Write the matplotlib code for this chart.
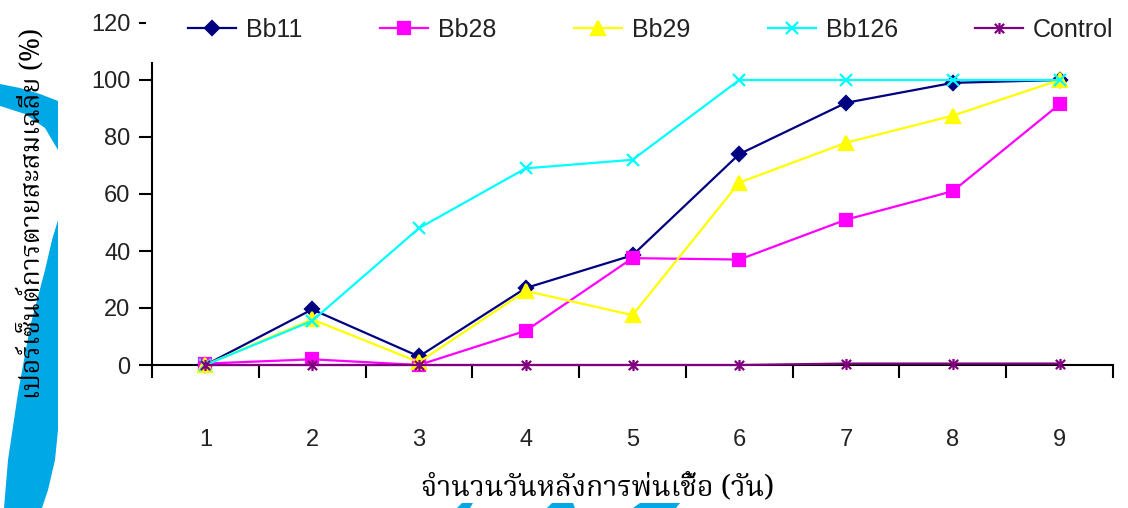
import matplotlib
matplotlib.use("Agg")
import matplotlib.pyplot as plt
from matplotlib import font_manager as fm
from matplotlib.ft2font import FT2Font
from matplotlib.path import Path
from matplotlib.patches import Polygon, Rectangle

# ---- data -------------------------------------------------------------
days = [1, 2, 3, 4, 5, 6, 7, 8, 9]
bb11 = [0, 19.5, 3, 27, 38.5, 74, 92, 99, 100]
bb28 = [0.5, 2, 0, 12, 37.5, 37, 51, 61, 91.5]
bb29 = [0, 16, 1, 26, 17.5, 64, 78, 87.5, 100]
bb126 = [0, 15.5, 48, 69, 72, 100, 100, 100, 100]
control = [0, 0, 0, 0, 0, 0, 0.5, 0.5, 0.5]
series_names = ["Bb11", "Bb28", "Bb29", "Bb126", "Control"]
y_ticks = [0, 20, 40, 60, 80, 100, 120]
x_title = "จำนวนวันหลังการพ่นเชื้อ (วัน)"
y_title = "เปอร์เซ็นต์การตายสะสมเฉลี่ย (%)"

# ---- fonts ------------------------------------------------------------
plt.rcParams["font.family"] = ["Liberation Sans", "DejaVu Sans"]


def thai_font():
    found = []
    seen = set()
    for f in fm.fontManager.ttflist:
        if f.fname in seen:
            continue
        seen.add(f.fname)
        try:
            cmap = FT2Font(f.fname).get_charmap()
        except Exception:
            continue
        if 0x0E08 in cmap and 0x0E33 in cmap and 0x0E49 in cmap:
            score = 0
            nm = f.name.lower()
            if "serif" in nm or "norasi" in nm or "kinnari" in nm:
                score += 2
            if f.style == "normal" and f.weight in (400, "normal", "regular"):
                score += 1
            found.append((score, f.name))
    if not found:
        return None
    found.sort(reverse=True)
    return found[0][1]


thai = thai_font()
thai_family = [thai, "DejaVu Sans"] if thai else ["DejaVu Sans"]

W, H = 1128, 508
fig = plt.figure(figsize=(W / 100, H / 100), dpi=100)
fig.patch.set_facecolor("white")

# ---- decorative background swoosh ---------------------------------------
bg = fig.add_axes([0, 0, 1, 1], zorder=-5)
bg.set_xlim(0, W)
bg.set_ylim(H, 0)
bg.axis("off")
blue = "#00A8E6"
bg.add_patch(Polygon([(0, 84), (20, 88), (40, 94), (58, 101), (58, 150),
                      (45, 128), (25, 114), (0, 106)], closed=True,
                     color=blue, lw=0))
bg.add_patch(Polygon([(58, 220), (58, 430), (55, 460), (48, 490), (42, 508),
                      (4, 508), (8, 460), (18, 393), (30, 327), (45, 270),
                      (52, 240)], closed=True, color=blue, lw=0))
bg.add_patch(Polygon([(457, 508), (462, 503), (473, 503), (470, 508)],
                     closed=True, color=blue, lw=0))
bg.add_patch(Polygon([(547, 508), (552, 503), (573, 503), (575, 508)],
                     closed=True, color=blue, lw=0))
bg.add_patch(Polygon([(633, 508), (640, 503), (680, 503), (676, 508)],
                     closed=True, color=blue, lw=0))

# ---- main axes --------------------------------------------------------
ax = fig.add_axes([152 / W, 143 / H, 961 / W, 342 / H])
ax.set_facecolor("none")
ax.set_xlim(0.5, 9.5)
ax.set_ylim(0, 120)

star = Path([(-1, -1), (1, 1), (-1, 1), (1, -1), (0, -1.2), (0, 1.2)],
            [Path.MOVETO, Path.LINETO, Path.MOVETO, Path.LINETO,
             Path.MOVETO, Path.LINETO])

styles = [
    (bb11, "#000080", "D", 7.5),
    (bb28, "#FF00FF", "s", 8.5),
    (bb29, "#FFFF00", "^", 9.5),
    (bb126, "#00FFFF", "x", 8.5),
    (control, "#800080", star, 8),
]
handles = []
for (vals, col, mk, ms), name in zip(styles, series_names):
    ln, = ax.plot(days, vals, color=col, lw=1.6, marker=mk, ms=ms,
                  mfc=col, mec=col, mew=1.6, clip_on=False, zorder=3,
                  label=name)
    handles.append(ln)

for s in ("top", "right"):
    ax.spines[s].set_visible(False)
for s in ("left", "bottom"):
    ax.spines[s].set_linewidth(1.5)
    ax.spines[s].set_color("black")

ax.set_yticks(y_ticks)
ax.set_yticklabels([str(v) for v in y_ticks])
ax.tick_params(axis="y", direction="out", length=9.4, width=1.5, pad=6,
               labelsize=17, labelcolor="#222222")
ax.set_xticks(days)
ax.set_xticklabels([str(d) for d in days])
ax.set_xticks([d - 0.5 for d in days] + [9.5], minor=True)
ax.tick_params(axis="x", which="major", length=0, pad=46, labelsize=17,
               labelcolor="#222222")
ax.tick_params(axis="x", which="minor", direction="out", length=9.4,
               width=1.5)

# ---- legend band across the top ----------------------------------------
fig.add_artist(Rectangle((146 / W, 1 - 62 / H), 1 - 146 / W, 62 / H,
                         transform=fig.transFigure, facecolor="white",
                         edgecolor="none", zorder=5))
leg = fig.legend(handles=handles, labels=series_names, ncol=5,
                 loc="center left", bbox_to_anchor=(188 / W, 1 - 30 / H),
                 frameon=False, fontsize=18, handlelength=1.92,
                 handletextpad=0.4, columnspacing=3.1, borderpad=0,
                 borderaxespad=0)
leg.set_zorder(6)
for t in leg.get_texts():
    t.set_color("#222222")

# ---- axis titles, sized to their spans -----------------------------------
xt = fig.text(598 / W, 1 - 488 / H, x_title, family=thai_family,
              fontsize=20, ha="center", va="center", color="black")
yt = fig.text(32 / W, 1 - 213 / H, y_title, family=thai_family,
              fontsize=20, ha="center", va="center", rotation=90,
              color="black")

fig.canvas.draw()
r = fig.canvas.get_renderer()
bw = xt.get_window_extent(r).width
xt.set_fontsize(20 * 353 / bw)
bh = yt.get_window_extent(r).height
yt.set_fontsize(20 * 373 / bh)

fig.savefig("out.png", dpi=100, facecolor="white")
